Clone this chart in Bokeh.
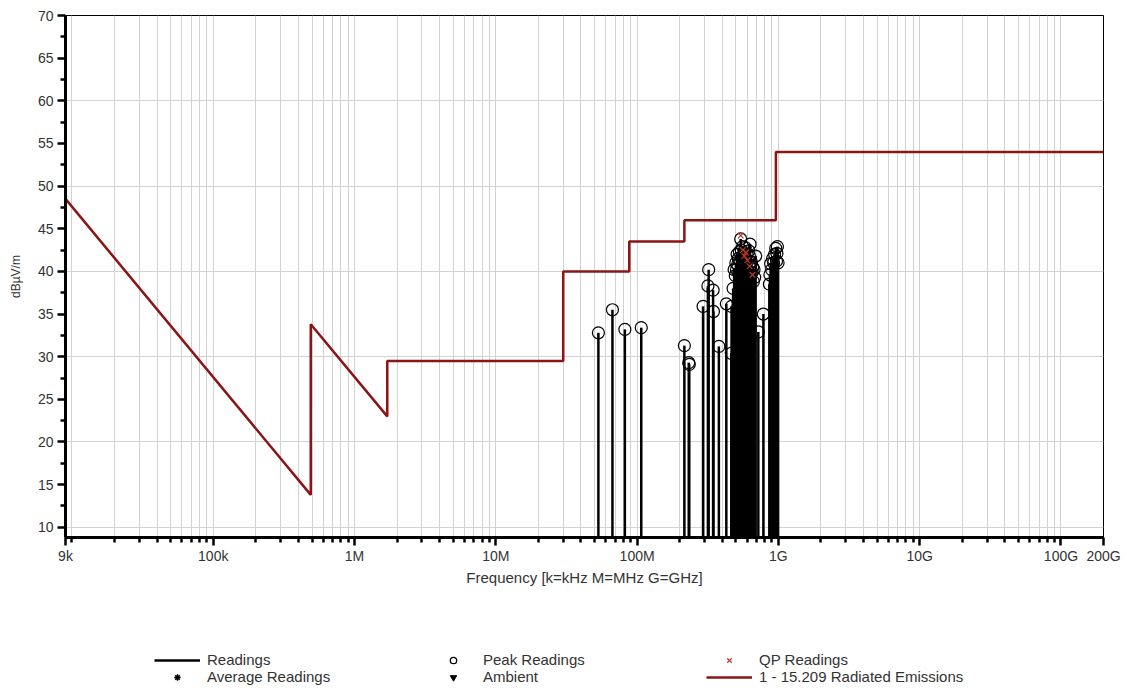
import numpy as np
from bokeh.plotting import figure
from bokeh.layouts import column
from bokeh.models import FixedTicker, Legend, LegendItem, Range1d
from bokeh.embed import file_html
from bokeh.resources import INLINE

# ---------------- data ----------------
tick_hz = [9e3, 1e5, 1e6, 1e7, 1e8, 1e9, 1e10, 1e11, 2e11]
tick_labels = ["9k", "100k", "1M", "10M", "100M", "1G", "10G", "100G", "200G"]

y_ticks = [10, 15, 20, 25, 30, 35, 40, 45, 50, 55, 60, 65, 70]

# FCC 15.209 radiated emissions limit (dBuV/m)
limit_freq_hz = [9e3, 490e3, 490e3, 1.705e6, 1.705e6, 30e6, 30e6, 88e6, 88e6,
                 216e6, 216e6, 960e6, 960e6, 200e9]
limit_dbuv = [48.5, 13.8, 33.8, 23.0, 29.5, 29.5, 40.0, 40.0, 43.5,
              43.5, 46.0, 46.0, 54.0, 54.0]

# Peak readings (MHz, dBuV/m)
peak_freq_mhz = [53.2, 66.9, 81.9, 107.0,
                 216.0, 232.0, 234.0,
                 293.0, 317.0, 321.0, 345.0, 347.0, 379.0, 428.0, 464.0, 466.0,
                 478.0, 486.0,
                 495.0, 500.0, 505.0, 510.0, 515.0, 520.0, 525.0, 530.0, 535.0,
                 541.0, 546.0, 552.0, 558.0, 563.0, 569.0, 575.0, 581.0, 587.0,
                 593.0, 600.0, 606.0, 612.0, 618.0, 624.0, 630.0, 637.0, 644.0,
                 651.0, 658.0, 665.0, 672.0, 680.0, 690.0,
                 721.0, 783.0, 863.0, 870.0, 881.0, 895.0, 910.0, 925.0, 940.0,
                 958.0, 970.0, 976.0, 984.0, 995.0]
peak_dbuv = [32.8, 35.5, 33.2, 33.4,
             31.3, 29.3, 29.1,
             35.9, 38.3, 40.2, 37.8, 35.3, 31.2, 36.2, 30.4, 35.9,
             38.0, 40.2,
             39.5, 41.0, 40.2, 42.0, 40.8, 41.5, 39.8, 42.3, 41.2,
             43.8, 42.5, 41.7, 42.9, 41.0, 42.2, 40.6, 42.8, 41.4,
             40.1, 42.0, 41.3, 39.6, 42.4, 41.8, 43.2, 40.7, 41.1,
             39.9, 40.5, 38.8, 40.2, 39.3, 41.8,
             32.9, 35.0, 38.5, 39.6, 40.9, 40.2, 41.5, 41.0, 42.0,
             42.7, 41.2, 42.1, 42.9, 41.0]

# Quasi-peak readings (MHz, dBuV/m)
qp_freq_mhz = [541.0, 560.0, 575.0, 590.0, 604.0, 625.0, 655.0]
qp_dbuv = [44.2, 42.5, 41.8, 42.2, 41.3, 40.6, 39.6]

# ---------------- main figure ----------------
Y_MIN, Y_MAX = 8.8, 70.0
FONT = "Liberation Sans"
LIMIT_COLOR = "#8b1414"
QP_COLOR = "#c0392b"
TEXT_COLOR = "#333333"

p = figure(width=1127, height=620, x_axis_type="log",
           x_range=Range1d(tick_hz[0], tick_hz[-1]), y_range=Range1d(Y_MIN, Y_MAX),
           output_backend="svg", toolbar_location=None,
           min_border_left=65, min_border_right=24, min_border_top=15,
           min_border_bottom=83)
p.background_fill_color = "white"
p.border_fill_color = "white"
p.outline_line_color = "black"
p.outline_line_width = 1

minor_x = []
for n in range(3, 12):
    for k in range(1, 10):
        v = k * 10.0 ** n
        if tick_hz[0] < v < tick_hz[-1] and v not in tick_hz:
            minor_x.append(v)
p.xaxis.ticker = FixedTicker(ticks=tick_hz, minor_ticks=minor_x)
p.xaxis.major_label_overrides = {t: l for t, l in zip(tick_hz, tick_labels)}
minor_y = [v + 2.5 for v in y_ticks[:-1]]
p.yaxis.ticker = FixedTicker(ticks=y_ticks, minor_ticks=minor_y)

for ax in (p.xaxis[0], p.yaxis[0]):
    ax.axis_line_width = 3
    ax.axis_line_color = "black"
    ax.major_tick_line_width = 2.5
    ax.minor_tick_line_width = 2.5
    ax.major_tick_line_color = "black"
    ax.minor_tick_line_color = "black"
    ax.major_tick_in = 0
    ax.minor_tick_in = 0
    ax.major_tick_out = 8
    ax.minor_tick_out = 5
    ax.major_label_text_font = FONT
    ax.major_label_text_font_size = "14px"
    ax.major_label_text_color = TEXT_COLOR
    ax.axis_label_text_font = FONT
    ax.axis_label_text_font_style = "normal"
    ax.axis_label_text_color = TEXT_COLOR

p.xaxis.axis_label = "Frequency [k=kHz M=MHz G=GHz]"
p.xaxis.axis_label_text_font_size = "15px"
p.xaxis.major_label_standoff = 2
p.xaxis.axis_label_standoff = 2
p.yaxis.axis_label = "dBµV/m"
p.yaxis.axis_label_text_font_size = "12px"
p.yaxis.major_label_standoff = 4
p.yaxis.axis_label_standoff = 12

p.xgrid.ticker = FixedTicker(ticks=sorted(tick_hz + minor_x))
p.ygrid.ticker = FixedTicker(ticks=[10, 20, 30, 40, 50, 60, 70])
for g in (p.xgrid[0], p.ygrid[0]):
    g.grid_line_color = "#d2d2d2"
    g.grid_line_width = 1

peak_hz = np.array(peak_freq_mhz) * 1e6
qp_hz = np.array(qp_freq_mhz) * 1e6

p.line(limit_freq_hz, limit_dbuv, line_color=LIMIT_COLOR, line_width=2.5)
p.segment(x0=peak_hz, y0=[Y_MIN] * len(peak_hz), x1=peak_hz, y1=peak_dbuv,
          line_color="black", line_width=2.5)
p.scatter(peak_hz, peak_dbuv, marker="circle", size=12,
          fill_alpha=0, line_color="black", line_width=1.2)
p.scatter(qp_hz, qp_dbuv, marker="x", size=8, line_color=QP_COLOR, line_width=1.2)

# ---------------- legend strip ----------------
q = figure(width=1127, height=76, output_backend="svg", toolbar_location=None,
           x_range=Range1d(0, 1), y_range=Range1d(0, 1),
           x_axis_location=None, y_axis_location=None,
           min_border=0, min_border_left=0, min_border_right=0,
           min_border_top=0, min_border_bottom=0)
q.grid.visible = False
q.outline_line_color = None
q.background_fill_color = "white"
q.border_fill_color = "white"

nan = [float("nan")]  # legend-only renderers: nothing is drawn in the strip
l_read = q.line(x=nan, y=nan, line_color="black", line_width=2.5)
l_avg = q.scatter(x=nan, y=nan, marker="asterisk", size=11, line_color="black", line_width=1.5)
l_peak = q.scatter(x=nan, y=nan, marker="circle", size=11, fill_alpha=0,
                   line_color="black", line_width=1.3)
l_amb = q.scatter(x=nan, y=nan, marker="inverted_triangle", size=11,
                  fill_color="black", line_color="black")
l_qp = q.scatter(x=nan, y=nan, marker="x", size=8, line_color=QP_COLOR, line_width=1.2)
l_lim = q.line(x=nan, y=nan, line_color=LIMIT_COLOR, line_width=2.5)

legend = Legend(items=[
    LegendItem(label="Readings", renderers=[l_read]),
    LegendItem(label="Average Readings", renderers=[l_avg]),
    LegendItem(label="Peak Readings", renderers=[l_peak]),
    LegendItem(label="Ambient", renderers=[l_amb]),
    LegendItem(label="QP Readings", renderers=[l_qp]),
    LegendItem(label="1 - 15.209 Radiated Emissions", renderers=[l_lim]),
], orientation="vertical", nrows=2, location=(89, 11))
legend.glyph_width = 46
legend.glyph_height = 16
legend.label_height = 16
legend.label_width = 223
legend.label_standoff = 7
legend.spacing = 0
legend.padding = 0
legend.margin = 0
legend.border_line_alpha = 0
legend.background_fill_alpha = 0
legend.label_text_font = FONT
legend.label_text_font_size = "15px"
legend.label_text_color = TEXT_COLOR
q.add_layout(legend, "center")

layout = column(p, q, spacing=0)
open("out.html", "w").write(file_html(layout, INLINE))
